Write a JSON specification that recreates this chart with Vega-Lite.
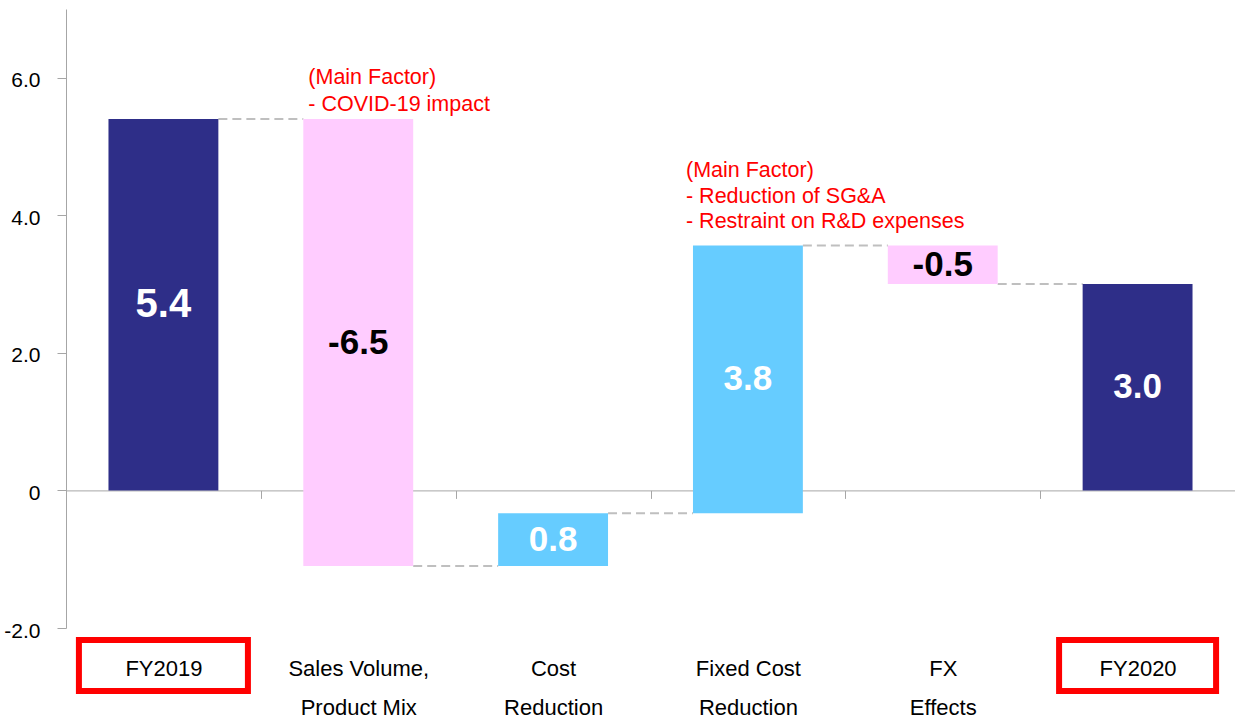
{
  "$schema": "https://vega.github.io/schema/vega-lite/v6.json",
  "width": 1169,
  "height": 619,
  "autosize": "none",
  "padding": {"left": 66, "top": 9, "right": 0, "bottom": 90},
  "background": "#FFFFFF",
  "config": {"view": {"stroke": null}, "font": "Liberation Sans"},
  "datasets": {
    "bars": [
      {"label": "FY2019", "start": 0, "end": 5.4, "value": "5.4", "kind": "total"},
      {"label": "Sales Volume,|Product Mix", "start": 5.4, "end": -1.1, "value": "-6.5", "kind": "decrease"},
      {"label": "Cost|Reduction", "start": -1.1, "end": -0.33, "value": "0.8", "kind": "increase"},
      {"label": "Fixed Cost|Reduction", "start": -0.33, "end": 3.56, "value": "3.8", "kind": "increase"},
      {"label": "FX|Effects", "start": 3.56, "end": 3.0, "value": "-0.5", "kind": "decrease"},
      {"label": "FY2020", "start": 0, "end": 3.0, "value": "3.0", "kind": "total"}
    ],
    "connectors": [
      {"from": "FY2019", "to": "Sales Volume,|Product Mix", "level": 5.4},
      {"from": "Sales Volume,|Product Mix", "to": "Cost|Reduction", "level": -1.1},
      {"from": "Cost|Reduction", "to": "Fixed Cost|Reduction", "level": -0.33},
      {"from": "Fixed Cost|Reduction", "to": "FX|Effects", "level": 3.56},
      {"from": "FX|Effects", "to": "FY2020", "level": 3.0}
    ]
  },
  "layer": [
    {
      "data": {"name": "connectors"},
      "mark": {"type": "rule", "color": "#BFBFBF", "strokeWidth": 2, "strokeDash": [9, 5]},
      "encoding": {
        "x": {"field": "from", "type": "nominal", "bandPosition": 0.782},
        "x2": {"field": "to", "bandPosition": 0.218},
        "y": {"field": "level", "type": "quantitative"}
      }
    },
    {
      "data": {"name": "bars"},
      "mark": {"type": "bar", "width": {"band": 0.564}},
      "encoding": {
        "x": {
          "field": "label",
          "type": "nominal",
          "sort": null,
          "scale": {
            "domain": ["FY2019", "Sales Volume,|Product Mix", "Cost|Reduction", "Fixed Cost|Reduction", "FX|Effects", "FY2020"],
            "paddingInner": 0,
            "paddingOuter": 0
          },
          "axis": {
            "title": null,
            "orient": "bottom",
            "offset": -137.6,
            "labelAngle": 0,
            "labelAlign": "center",
            "domainColor": "#A6A6A6",
            "tickColor": "#A6A6A6",
            "tickSize": 8,
            "tickBand": "extent",
            "labelPadding": 170,
            "labelFontSize": 22,
            "labelColor": "#000000",
            "labelLineHeight": 39,
            "labelFont": "Liberation Sans",
            "labelExpr": "split(datum.label, '|')"
          }
        },
        "y": {
          "field": "start",
          "type": "quantitative",
          "scale": {"domain": [-2, 7], "nice": false, "zero": false},
          "axis": {
            "title": null,
            "values": [-2, 0, 2, 4, 6],
            "labelExpr": "datum.value === 0 ? '0' : datum.value + '.0'",
            "grid": false,
            "domainColor": "#A6A6A6",
            "tickColor": "#A6A6A6",
            "tickSize": 9,
            "labelPadding": 17,
            "labelOffset": 3,
            "labelFontSize": 21,
            "labelColor": "#000000",
            "labelFont": "Liberation Sans"
          }
        },
        "y2": {"field": "end"},
        "color": {
          "field": "kind",
          "type": "nominal",
          "scale": {"domain": ["total", "decrease", "increase"], "range": ["#2E2E88", "#FFCCFF", "#66CCFF"]},
          "legend": null
        }
      }
    },
    {
      "data": {"name": "bars"},
      "transform": [
        {"filter": "datum.label !== 'FY2019'"},
        {"calculate": "(datum.start + datum.end) / 2", "as": "mid"}
      ],
      "mark": {"type": "text", "fontWeight": "bold", "baseline": "middle", "align": "center", "font": "Liberation Sans", "fontSize": 35},
      "encoding": {
        "x": {"field": "label", "type": "nominal"},
        "y": {"field": "mid", "type": "quantitative"},
        "text": {"field": "value", "type": "nominal"},
        "color": {"condition": {"test": "datum.kind === 'decrease'", "value": "#000000"}, "value": "#FFFFFF"}
      }
    },
    {
      "data": {"name": "bars"},
      "transform": [
        {"filter": "datum.label === 'FY2019'"},
        {"calculate": "(datum.start + datum.end) / 2", "as": "mid"}
      ],
      "mark": {"type": "text", "fontWeight": "bold", "baseline": "middle", "align": "center", "font": "Liberation Sans", "fontSize": 40, "color": "#FFFFFF"},
      "encoding": {
        "x": {"field": "label", "type": "nominal"},
        "y": {"field": "mid", "type": "quantitative"},
        "text": {"field": "value", "type": "nominal"}
      }
    },
    {
      "data": {"name": "bars"},
      "transform": [{"filter": "datum.kind === 'total'"}],
      "mark": {"type": "bar", "fill": "transparent", "stroke": "#FF0000", "strokeWidth": 6},
      "encoding": {
        "x": {"field": "label", "type": "nominal"},
        "y": {"datum": -2.174},
        "y2": {"datum": -2.916},
        "size": {"condition": {"test": "datum.label === 'FY2019'", "value": 169}, "value": 157}
      }
    },
    {
      "data": {"values": [{"label": "Sales Volume,|Product Mix", "lines": ["(Main Factor)", "- COVID-19 impact"], "anchor": 6.156}]},
      "mark": {"type": "text", "align": "left", "baseline": "top", "fontSize": 21.5, "lineHeight": 27, "color": "#FF0000", "dx": 5, "font": "Liberation Sans"},
      "encoding": {
        "x": {"field": "label", "type": "nominal", "bandPosition": 0.218},
        "y": {"field": "anchor", "type": "quantitative"},
        "text": {"field": "lines"}
      }
    },
    {
      "data": {"values": [{"label": "Fixed Cost|Reduction", "lines": ["(Main Factor)", "- Reduction of SG&A", "- Restraint on R&D expenses"], "anchor": 4.804}]},
      "mark": {"type": "text", "align": "left", "baseline": "top", "fontSize": 21.5, "lineHeight": 25.5, "color": "#FF0000", "dx": -7, "font": "Liberation Sans"},
      "encoding": {
        "x": {"field": "label", "type": "nominal", "bandPosition": 0.218},
        "y": {"field": "anchor", "type": "quantitative"},
        "text": {"field": "lines"}
      }
    }
  ]
}
